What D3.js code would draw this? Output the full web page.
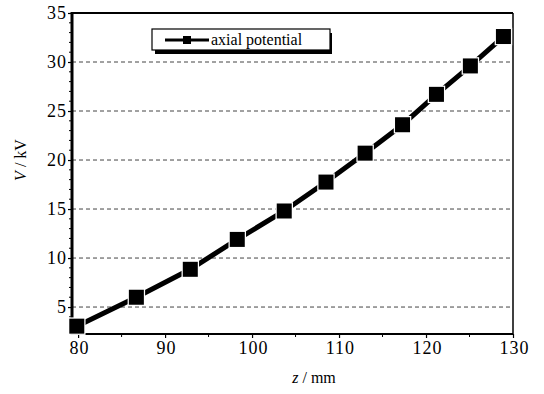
<!DOCTYPE html>
<html><head><meta charset="utf-8">
<script src="https://cdn.jsdelivr.net/npm/d3@7"></script>
<style>body{margin:0;background:#fff}svg{display:block}text{font-family:'Liberation Serif','Times New Roman',serif}</style>
</head><body>
<script>
const zValues = [79.85, 86.7, 92.9, 98.3, 103.7, 108.5, 113.0, 117.3, 121.2, 125.1, 128.9];
const potential = [3.05, 6.0, 8.85, 11.9, 14.8, 17.75, 20.7, 23.6, 26.7, 29.6, 32.6];
const xTicks = [80, 90, 100, 110, 120, 130];
const yTicks = [5, 10, 15, 20, 25, 30, 35];
const seriesName = "axial potential";

const W = 544, H = 394;
const L = 72, R = 513, T = 13, B = 334;
const svg = d3.select("body").append("svg").attr("width", W).attr("height", H);
const x = d3.scaleLinear().domain([79.3, 130]).range([L, R]);
const y = d3.scaleLinear().domain([2.25, 35]).range([B, T]);
const font = "'Liberation Serif','Times New Roman',serif";

// grid
svg.append("g").selectAll("line").data(yTicks.filter(d => d < 35)).join("line")
  .attr("x1", L).attr("x2", R).attr("y1", d => y(d)).attr("y2", d => y(d))
  .attr("stroke", "#444").attr("stroke-width", 1).attr("stroke-dasharray", "4,3");

// axes
const gx = svg.append("g").attr("transform", `translate(0,${B})`)
  .call(d3.axisBottom(x).tickValues(xTicks).tickSize(4).tickPadding(3).tickFormat(d3.format("d")));
const gy = svg.append("g").attr("transform", `translate(${L},0)`)
  .call(d3.axisLeft(y).tickValues(yTicks).tickSize(4).tickPadding(1).tickFormat(d3.format("d")));
// minor ticks
svg.append("g").selectAll("line").data(d3.range(85, 130, 10)).join("line")
  .attr("x1", d => x(d)).attr("x2", d => x(d)).attr("y1", B).attr("y2", B + 3)
  .attr("stroke", "#000").attr("stroke-width", 1);
svg.append("g").selectAll("line").data(d3.range(3, 35, 1).filter(d => d % 5)).join("line")
  .attr("x1", L - 3).attr("x2", L).attr("y1", d => y(d)).attr("y2", d => y(d))
  .attr("stroke", "#000").attr("stroke-width", 1);
[gx, gy].forEach(g => {
  g.select(".domain").remove();
  g.attr("font-family", font).attr("font-size", 18);
  g.selectAll("text").style("font-family", font).style("font-size", "18px")
    .style("letter-spacing", "1px").attr("fill", "#000");
  g.selectAll("line").attr("stroke", "#000").attr("stroke-width", 1.2);
});
gx.selectAll("text").attr("dx", "0.05em");

// frame
svg.append("line").attr("x1", L).attr("x2", L).attr("y1", T - 1).attr("y2", B + 1).attr("stroke", "#000").attr("stroke-width", 3);
svg.append("line").attr("x1", L).attr("x2", R).attr("y1", B).attr("y2", B).attr("stroke", "#000").attr("stroke-width", 2);
svg.append("line").attr("x1", L).attr("x2", R).attr("y1", T).attr("y2", T).attr("stroke", "#000").attr("stroke-width", 2);
svg.append("line").attr("x1", R).attr("x2", R).attr("y1", T).attr("y2", B).attr("stroke", "#000").attr("stroke-width", 1.5);

// series
const data = zValues.map((z, i) => ({z, v: potential[i]}));
svg.append("path").datum(data)
  .attr("d", d3.line().x(d => x(d.z)).y(d => y(d.v)))
  .attr("fill", "none").attr("stroke", "#000").attr("stroke-width", 5);
const S = 15;
svg.append("g").selectAll("rect").data(data).join("rect")
  .attr("x", d => x(d.z) - S / 2).attr("y", d => y(d.v) - S / 2)
  .attr("width", S).attr("height", S).attr("fill", "#000")
  .attr("stroke", "#fff").attr("stroke-width", 2.5).attr("paint-order", "stroke");

// legend
const lg = svg.append("g");
lg.append("rect").attr("x", 155).attr("y", 33).attr("width", 177).attr("height", 21).attr("fill", "#000");
lg.append("rect").attr("x", 152).attr("y", 29).attr("width", 178).attr("height", 21)
  .attr("fill", "#fff").attr("stroke", "#000").attr("stroke-width", 1.2);
lg.append("line").attr("x1", 165).attr("x2", 209).attr("y1", 40).attr("y2", 40).attr("stroke", "#000").attr("stroke-width", 3);
lg.append("rect").attr("x", 183).attr("y", 36).attr("width", 8).attr("height", 8).attr("fill", "#000");
lg.append("text").attr("x", 211).attr("y", 45).text(seriesName)
  .attr("font-family", font).attr("font-size", 16).attr("fill", "#000");

// axis titles
const xt = svg.append("text").attr("x", 314).attr("y", 383).attr("text-anchor", "middle")
  .attr("font-family", font).attr("font-size", 16).attr("fill", "#000");
xt.append("tspan").attr("font-style", "italic").text("z");
xt.append("tspan").text(" / mm");
const yt = svg.append("text").attr("transform", "translate(26,160) rotate(-90)").attr("text-anchor", "middle")
  .attr("font-family", font).attr("font-size", 16).attr("fill", "#000");
yt.append("tspan").attr("font-style", "italic").text("V");
yt.append("tspan").text(" / kV");
</script>
</body></html>
